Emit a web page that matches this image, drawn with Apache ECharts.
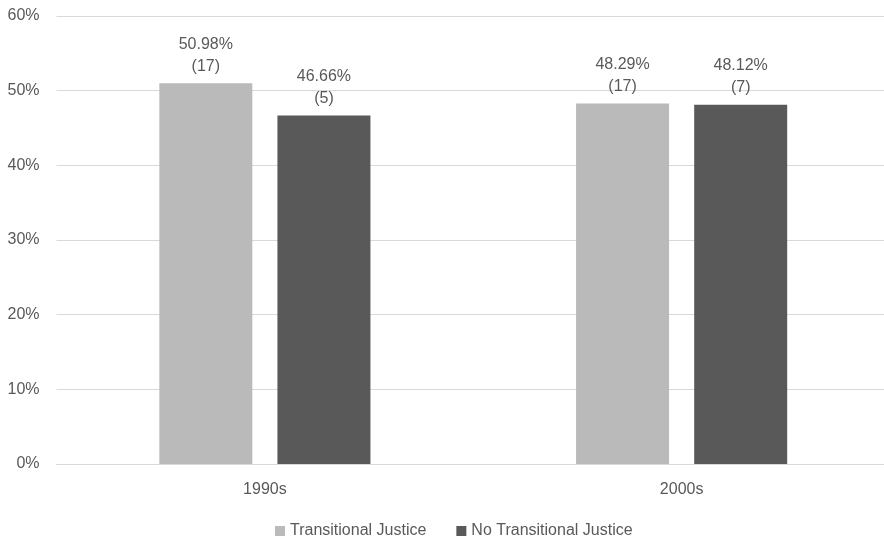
<!DOCTYPE html>
<html>
<head>
<meta charset="utf-8">
<script src="https://cdn.jsdelivr.net/npm/echarts@6/dist/echarts.min.js"></script>
<style>
  html, body { margin: 0; padding: 0; background: #ffffff; }
  #chart { width: 884px; height: 538px; }
</style>
</head>
<body>
<div id="chart"></div>
<script>
// Decades on the category axis
const categories = ['1990s', '2000s'];
// Share (%) for each group, with the number of cases per bar
const tjValues = [50.98, 48.29];
const tjCounts = [17, 17];
const ntjValues = [46.66, 48.12];
const ntjCounts = [5, 7];
const seriesNames = ['Transitional Justice', 'No Transitional Justice'];

const FONT = 'Liberation Sans, Arial, sans-serif';
const TEXT = '#595959';

function valueLabel(counts) {
  return {
    show: true,
    position: 'top',
    distance: 6,
    color: TEXT,
    fontFamily: FONT,
    fontSize: 16,
    lineHeight: 22,
    formatter: p => p.value.toFixed(2) + '%\n(' + counts[p.dataIndex] + ')'
  };
}

const chart = echarts.init(document.getElementById('chart'), null, { renderer: 'canvas' });
chart.setOption({
  animation: false,
  backgroundColor: '#ffffff',
  textStyle: { fontFamily: FONT },
  // the plot runs slightly past the right edge of the canvas
  grid: { left: 56.5, top: 16, right: -6, bottom: 74, containLabel: false, outerBoundsMode: 'none' },
  legend: {
    bottom: -6,
    left: 270,
    itemWidth: 10,
    itemHeight: 10,
    itemGap: 30,
    icon: 'rect',
    textStyle: { color: TEXT, fontSize: 16, fontFamily: FONT, padding: [0, 0, 0, 0] },
    data: seriesNames
  },
  xAxis: {
    type: 'category',
    data: categories,
    axisLine: { show: true, lineStyle: { color: '#d9d9d9', width: 1 } },
    axisTick: { show: false },
    axisLabel: { color: TEXT, fontSize: 16, fontFamily: FONT, margin: 18 }
  },
  yAxis: {
    type: 'value',
    min: 0,
    max: 60,
    interval: 10,
    axisLine: { show: false },
    axisTick: { show: false },
    splitLine: { lineStyle: { color: '#d9d9d9', width: 1 } },
    axisLabel: { color: TEXT, fontSize: 16, fontFamily: FONT, margin: 17, formatter: '{value}%' }
  },
  series: [
    {
      name: seriesNames[0],
      type: 'bar',
      data: tjValues,
      barWidth: 93,
      barGap: '27%',
      itemStyle: { color: '#bababa' },
      label: valueLabel(tjCounts)
    },
    {
      name: seriesNames[1],
      type: 'bar',
      data: ntjValues,
      barWidth: 93,
      barGap: '27%',
      itemStyle: { color: '#595959' },
      label: valueLabel(ntjCounts)
    }
  ]
});
</script>
</body>
</html>
